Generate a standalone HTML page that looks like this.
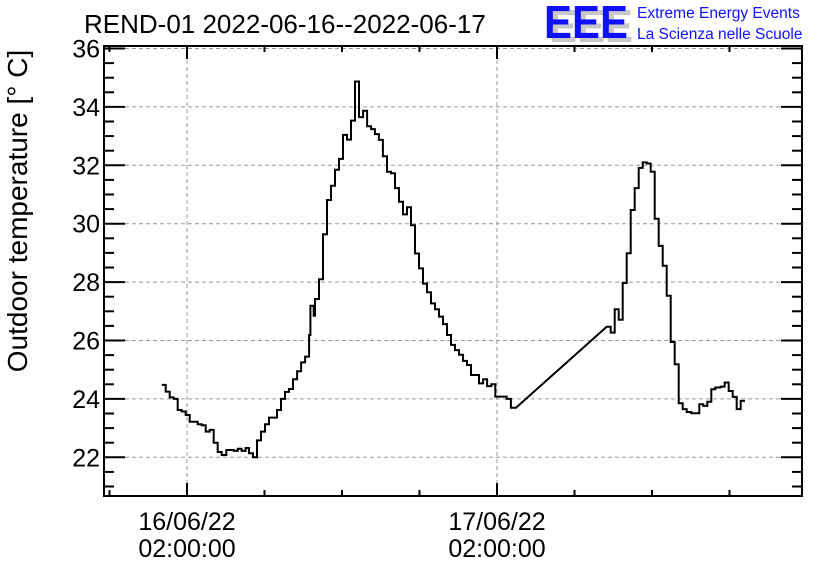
<!DOCTYPE html>
<html><head><meta charset="utf-8"><style>
body{margin:0;background:#fff;}
svg{display:block;font-family:"Liberation Sans",sans-serif;}
</style></head><body>
<svg id="chart" width="836" height="572" viewBox="0 0 836 572">
<rect x="0" y="0" width="836" height="572" fill="#fff"/>
<text x="84" y="33" font-size="26">REND-01 2022-06-16--2022-06-17</text>
<g>
<text x="549" y="42" font-size="46" font-weight="bold" fill="#c8c8c8" textLength="84" lengthAdjust="spacingAndGlyphs">EEE</text>
<text x="544" y="38" font-size="46" font-weight="bold" fill="#1010ff" textLength="84" lengthAdjust="spacingAndGlyphs">EEE</text>
<text x="637" y="18" font-size="15.5" fill="#1010ff">Extreme Energy Events</text>
<text x="637" y="39" font-size="15.5" fill="#1010ff">La Scienza nelle Scuole</text>
</g>
<text transform="translate(27,211) rotate(-90)" text-anchor="middle" font-size="28">Outdoor temperature [° C]</text>
<g id="grid"></g>
<g id="axes"></g>
<path id="line" fill="none" stroke="#000" stroke-width="2"/>
<rect x="104" y="46" width="698" height="450" fill="none" stroke="#000" stroke-width="2"/>
</svg>
<script>
// hours relative to 16/06/22 02:00:00
const times=[-1.96,-1.65,-1.34,-1.03,-0.72,-0.41,-0.10,0.21,0.83,1.14,1.45,1.76,2.07,2.38,2.69,3.04,3.62,3.93,4.23,4.54,4.80,5.11,5.42,5.73,6.04,6.35,6.97,7.28,7.59,7.90,8.21,8.52,8.83,9.14,9.45,9.55,9.81,9.91,10.22,10.53,10.84,11.15,11.46,11.77,12.08,12.39,12.70,13.01,13.32,13.63,13.94,14.25,14.55,14.86,15.17,15.48,15.79,16.10,16.41,16.72,17.03,17.34,17.65,17.96,18.27,18.58,18.89,19.20,19.51,19.82,20.13,20.44,20.75,21.06,21.37,21.68,21.99,22.61,22.92,23.23,23.56,23.87,24.75,25.08,25.47,32.49,32.80,33.11,33.42,33.73,34.04,34.35,34.66,34.97,35.28,35.59,35.90,36.21,36.52,36.83,37.14,37.45,37.76,38.07,38.38,38.69,39.04,39.66,39.97,40.28,40.59,40.90,41.32,41.63,41.94,42.25,42.56,42.87,43.2];
const temps=[24.48,24.25,24.05,24.0,23.62,23.57,23.45,23.22,23.13,23.1,22.88,22.94,22.5,22.18,22.08,22.25,22.22,22.29,22.22,22.32,22.14,22.0,22.58,22.88,23.13,23.36,23.62,24.0,24.24,24.34,24.67,24.95,25.25,25.45,26.19,27.19,26.85,27.42,28.1,29.64,30.81,31.30,31.85,32.22,33.04,32.88,33.53,34.87,33.65,33.87,33.34,33.24,33.07,32.87,32.31,31.78,31.73,31.22,30.75,30.32,30.56,29.95,28.98,28.47,27.95,27.65,27.27,27.07,26.82,26.56,26.19,25.85,25.67,25.51,25.30,25.16,24.82,24.53,24.67,24.44,24.5,24.08,24.0,23.70,23.70,26.47,26.27,27.07,26.71,27.97,28.99,30.47,31.22,31.91,32.10,32.06,31.78,30.17,29.24,28.56,27.53,25.95,25.19,23.85,23.65,23.55,23.51,23.82,23.76,23.90,24.33,24.39,24.42,24.56,24.27,24.07,23.65,23.93,23.93];
const yTicks=[22,24,26,28,30,32,34,36];
const xMajorHours=[0,24];
const xLabelDates=["16/06/22","17/06/22"];
const xLabelTimes=["02:00:00","02:00:00"];
const L=104,R=802,T=46,B=496;
const xs=h=>187+h*310/24;
const ys=v=>457.3-(v-22)*29.2;
const NS="http://www.w3.org/2000/svg";
const grid=document.getElementById('grid'),axes=document.getElementById('axes');
function ln(p,x1,y1,x2,y2,dash,col,w){const l=document.createElementNS(NS,'line');l.setAttribute('x1',x1);l.setAttribute('y1',y1);l.setAttribute('x2',x2);l.setAttribute('y2',y2);l.setAttribute('stroke',col||'#000');l.setAttribute('stroke-width',w||2);if(dash)l.setAttribute('stroke-dasharray',dash);p.appendChild(l);return l;}
function tx(x,y,s,anchor,name,fs){const t=document.createElementNS(NS,'text');t.setAttribute('x',x);t.setAttribute('y',y);t.setAttribute('font-size',fs);t.setAttribute('text-anchor',anchor);t.textContent=s;


axes.appendChild(t);}
yTicks.forEach(v=>{const y=ys(v);
const g=ln(grid,L,y,R,y,'4,3','#999',1);


ln(axes,L,y,L+21,y);ln(axes,R,y,R-21,y);
tx(L-4,y+9,String(v),'end','y-tick-label',25);});
for(let v=21;v<=36.01;v+=0.5){if(v%2===0)continue;const y=ys(v);if(y>B||y<T)continue;ln(axes,L,y,L+10,y);ln(axes,R,y,R-10,y);}
for(let h=-6;h<=48;h+=6){const x=xs(h);if(x<L||x>R)continue;const maj=xMajorHours.includes(h);const len=maj?13:6;ln(axes,x,B,x,B-len);ln(axes,x,T,x,T+len);}
xMajorHours.forEach((h,i)=>{const x=xs(h);
const g=ln(grid,x,T,x,B,'4,3','#999',1);


tx(x,530,xLabelDates[i],'middle','x-tick-date',25);tx(x,557,xLabelTimes[i],'middle','x-tick-time',25);});
let d='M'+xs(times[0]).toFixed(1)+','+ys(temps[0]).toFixed(1);
for(let i=1;i<times.length;i++){const x=xs(times[i]).toFixed(1),y=ys(temps[i]).toFixed(1);
if(times[i]-times[i-1]>2){d+=' L'+x+','+y;}else{d+=' H'+x+' V'+y;}}
document.getElementById('line').setAttribute('d',d);
</script>
</body></html>
